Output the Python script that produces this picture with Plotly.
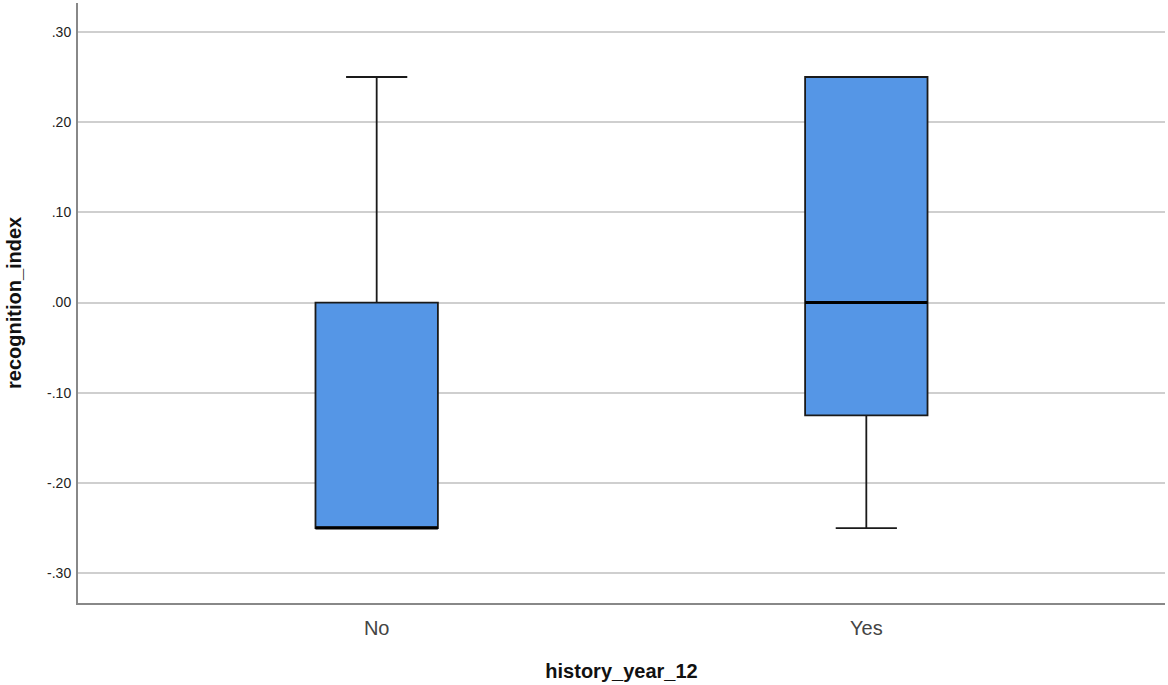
import plotly.graph_objects as go

# history_year_12 groups and their box statistics (recognition_index)
groups = ['No', 'Yes']
q1 = [-0.25, -0.125]
medians = [-0.25, 0.0]
q3 = [0.0, 0.25]
lower_whisker = [-0.25, -0.25]
upper_whisker = [0.25, 0.25]

y_ticks = [0.30, 0.20, 0.10, 0.00, -0.10, -0.20, -0.30]
y_tick_labels = ['.30', '.20', '.10', '.00', '-.10', '-.20', '-.30']

fig = go.Figure()
fig.add_trace(go.Box(
    x=groups,
    q1=q1,
    median=medians,
    q3=q3,
    lowerfence=lower_whisker,
    upperfence=upper_whisker,
    fillcolor='#5596E6',
    line=dict(color='#1a1a1a', width=1.8),
    width=0.25,
    whiskerwidth=0.5,
    boxpoints=False,
    showlegend=False,
    hoverinfo='skip',
))
# thicker median line, as SPSS draws it
fig.add_trace(go.Box(
    x=groups,
    q1=medians,
    median=medians,
    q3=medians,
    lowerfence=medians,
    upperfence=medians,
    fillcolor='rgba(0,0,0,0)',
    line=dict(color='#000000', width=3),
    width=0.25,
    whiskerwidth=0,
    boxpoints=False,
    showlegend=False,
    hoverinfo='skip',
))

fig.update_layout(
    width=1168,
    height=685,
    margin=dict(l=78, r=3, t=3, b=82),
    boxmode='overlay',
    plot_bgcolor='white',
    paper_bgcolor='white',
    font=dict(family='Liberation Sans, Arial, sans-serif', color='#222'),
    xaxis=dict(
        type='category',
        range=[-0.61, 1.61],
        automargin=False,
        showgrid=False,
        showline=True,
        linecolor='#888',
        linewidth=2,
        ticks='',
        ticklabelstandoff=6,
        tickfont=dict(size=20, color='#444'),
        title=dict(text='<b>history_year_12</b>', font=dict(size=20, color='#111'), standoff=26),
    ),
    yaxis=dict(
        range=[-0.333, 0.332],
        automargin=False,
        tickvals=y_ticks,
        ticktext=y_tick_labels,
        showgrid=True,
        gridcolor='#cfcfcf',
        gridwidth=1.5,
        zeroline=False,
        showline=True,
        linecolor='#888',
        linewidth=2,
        ticks='',
        ticklabelstandoff=2,
        tickfont=dict(size=14, color='#222'),
    ),
    annotations=[dict(
        text='<b>recognition_index</b>',
        xref='paper', yref='paper',
        x=0, y=0.5,
        xanchor='center', yanchor='middle',
        xshift=-64,
        textangle=-90,
        showarrow=False,
        font=dict(size=20, color='#111'),
    )],
)

fig.write_html("out.html", config={'displayModeBar': False},
               post_script="document.body.style.margin='0px';")
